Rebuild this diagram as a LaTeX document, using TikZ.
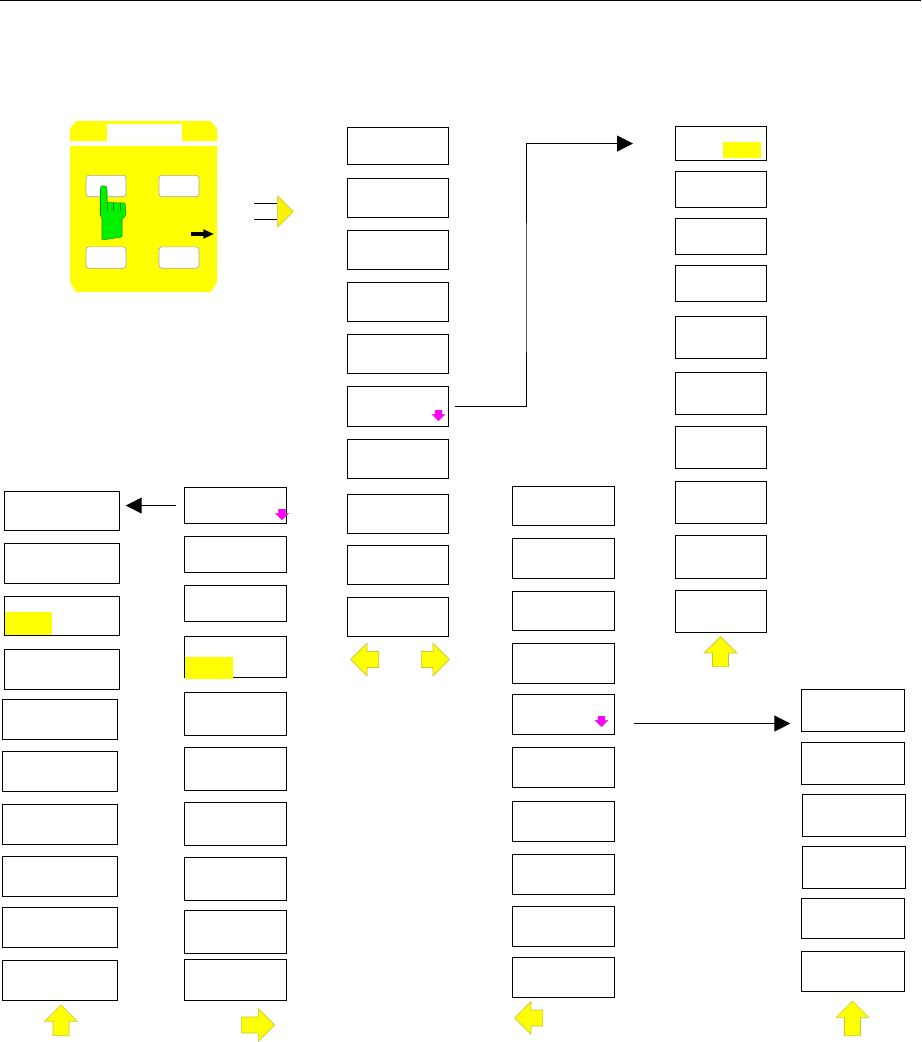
\documentclass[tikz,border=0pt]{standalone}
\usetikzlibrary{positioning, arrows.meta, calc, shapes.arrows}
\definecolor{panelyellow}{RGB}{255,255,0}
\definecolor{handgreen}{RGB}{0,240,0}
\definecolor{morepink}{RGB}{255,0,255}

\begin{document}
\begin{tikzpicture}[
  x=0.75pt, y=-0.75pt,
  panel/.style={draw=black, fill=white, line width=0.8pt, inner sep=0, anchor=north west},
  softkey/.style={draw=gray!70, fill=white, rounded corners=2pt, line width=0.5pt, inner sep=0, minimum width=30pt, minimum height=16pt},
  field/.style={fill=panelyellow, inner sep=0, anchor=north west},
  link/.style={black, line width=0.75pt, -{Triangle[length=12pt, width=12pt]}},
  navarrow/.style={single arrow, draw=panelyellow!55!gray, fill=panelyellow, line width=0.5pt, inner sep=0, text height=11.5pt, text depth=0pt,
    minimum width=24pt, minimum height=21pt, single arrow head extend=6.25pt, anchor=tail},
  morearrow/.style={single arrow, rotate=270, draw=morepink!60!gray, fill=morepink, line width=0.3pt, inner sep=0,
    text height=5pt, text depth=0pt, minimum width=9.5pt, minimum height=8pt, single arrow head extend=2.25pt, anchor=tail},
]
  \useasboundingbox (0,0) rectangle (921,1042);

  % --- top rule ---
  \draw[line width=0.9pt] (0,0.6) -- (921,0.6);

  % --- front panel ---
  \fill[panelyellow] (76,121) -- (211,121) -- (217,129) -- (217,141) -- (70,141) -- (70,129) -- cycle;
  \fill[panelyellow] (70,146) -- (217,146) -- (217,282) -- (211,292) -- (76,292) -- (70,282) -- cycle;
  \fill[white] (107,124) rectangle (182,141);
  \node[softkey] (keyA) at (106,186) {};
  \node[softkey] (keyB) at (179,186) {};
  \node[softkey] (keyC) at (106,257.5) {};
  \node[softkey] (keyD) at (179,257.5) {};

  % --- hand on the key ---
  \draw[green!60!black, fill=handgreen, line width=0.4pt, rounded corners=0.6pt]
    (100.5,189) -- (101,186) -- (106,186) -- (107,189) -- (107,202.5) -- (125,203) -- (126,215)
    -- (122,219) -- (122,237) -- (102,240) -- (102,218) -- (100.5,216) -- cycle;
  \draw[green!60!black, line width=0.3pt] (107,203) -- (107,211) (113,203) -- (113,211) (120,203) -- (120,211);
  \draw[line width=3pt, -{Triangle[length=8pt, width=6.5pt]}] (191,234) -- (214,234);

  % --- arrow out of the panel ---
  \node[single arrow, draw=panelyellow!50!gray, fill=panelyellow!90!orange, line width=0.4pt, inner sep=0, minimum width=23pt,
    minimum height=12pt, single arrow head extend=11.5pt, anchor=tail] (panelout) at (277,211.5) {};
  \draw[line width=0.75pt] (254,203.5) -- (277,203.5) (254,219.5) -- (277,219.5);

  % --- menu columns: name, left, right, rows ---
  \foreach \yt/\yb [count=\i] in {127/164,178/217,230/269,282/321,334/373,386/426,439/478,494/533,545/584,597/636}{
    \node[panel, minimum width=76pt, minimum height={(\yb-\yt)*0.75pt}] (mid\i) at (347,\yt) {};
  }
  \foreach \yt/\yb [count=\i] in {126/160,171/207,218/254,265/301,316/358,372/414,426/468,481/523,535/578,590/632}{
    \node[panel, minimum width=68.5pt, minimum height={(\yb-\yt)*0.75pt}] (upper\i) at (675,\yt) {};
  }
  \foreach \xl/\yt/\yb [count=\i] in {4/491/530,4/543/583,4/596/635,4/649/689,2/699/739,2/751/791,2/804/844,2/856/896,2/907/947,2/960/1000}{
    \node[panel, minimum width=86.5pt, minimum height={(\yb-\yt)*0.75pt}] (outer\i) at (\xl,\yt) {};
  }
  \foreach \yt/\yb [count=\i] in {487/523,536/572,585/621,636/677,692/735,747/790,802/845,857/900,910/953,959/1000}{
    \node[panel, minimum width=76.5pt, minimum height={(\yb-\yt)*0.75pt}] (second\i) at (184,\yt) {};
  }
  \foreach \yt/\yb [count=\i] in {486/525,538/578,591/630,643/683,694/734,747/787,801/841,854/894,906/946,957/997}{
    \node[panel, minimum width=76.5pt, minimum height={(\yb-\yt)*0.75pt}] (lower\i) at (512,\yt) {};
  }
  \foreach \xl/\yt/\yb [count=\i] in {801/689/731,801/742/784,802/794/836,802/846/888,801/898/938,801/951/991}{
    \node[panel, minimum width=77pt, minimum height={(\yb-\yt)*0.75pt}] (corner\i) at (\xl,\yt) {};
  }

  % --- highlighted fields ---
  \node[field, minimum width=28.5pt, minimum height=12pt] (fieldA) at (723,142) {};
  \node[field, minimum width=35pt, minimum height=17pt] (fieldB) at (5,612) {};
  \node[field, minimum width=36pt, minimum height=16.5pt] (fieldC) at (185,657) {};

  % --- links between menus ---
  \coordinate (bendA) at (526,300);
  \draw[link, shorten <=4.5pt, shorten >=31.5pt] (mid6.east) -| (bendA) |- (upper1.west);
  \draw[link, shorten <=6pt, shorten >=4pt] (second1.west) -- (outer1.east |- second1.west);
  \draw[link, shorten <=14pt, shorten >=8pt] ([yshift=-6.75pt]lower5.east) -- ([yshift=-6.75pt]lower5.east -| corner1.west);

  % --- small markers for sub menus ---
  \node[morearrow] (moreA) at (438.5,410) {};
  \node[morearrow] (moreB) at (282,509) {};
  \node[morearrow] (moreC) at (601.5,716) {};

  % --- paging arrows ---
  \node[navarrow, rotate=180] (pageA) at (379,659.5) {};
  \node[navarrow] (pageB) at (421,659.5) {};
  \node[navarrow, rotate=90, minimum height=22.5pt] (pageC) at (720.5,667) {};
  \node[navarrow, rotate=90, minimum height=23pt] (pageD) at (61,1036) {};
  \node[navarrow, minimum height=25pt] (pageE) at (241,1025) {};
  \node[navarrow, rotate=180] (pageF) at (543,1018) {};
  \node[navarrow, rotate=90, minimum height=26pt] (pageG) at (852.5,1036) {};
\end{tikzpicture}
\end{document}
